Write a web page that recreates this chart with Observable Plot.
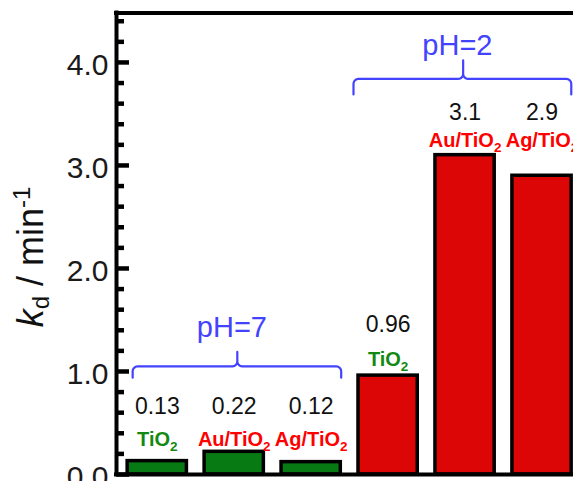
<!DOCTYPE html>
<html><head><meta charset="utf-8">
<script src="https://cdn.jsdelivr.net/npm/d3@7"></script>
<script src="https://cdn.jsdelivr.net/npm/@observablehq/plot@0.6"></script>
<style>
body{margin:0;background:#fff}
#chart svg{font-family:"Liberation Sans",Arial,Helvetica,sans-serif;display:block}
</style>
</head><body><div id="chart"></div>
<script>
// ---- data ----
const catalysts   = ["TiO2", "Au/TiO2", "Ag/TiO2", "TiO2", "Au/TiO2", "Ag/TiO2"];
const phGroups    = ["pH=7", "pH=7", "pH=7", "pH=2", "pH=2", "pH=2"];
const kd          = [0.13, 0.22, 0.12, 0.96, 3.1, 2.9];
const valueLabels = ["0.13", "0.22", "0.12", "0.96", "3.1", "2.9"];
const yTicks      = [0, 1, 2, 3, 4];
const yTickLabels = ["0.0", "1.0", "2.0", "3.0", "4.0"];
const groupNames  = ["pH=7", "pH=2"];

// ---- layout / style (annotation placement, in data units) ----
const valueLabelY = [0.59, 0.59, 0.59, 1.38, 3.44, 3.44];
const nameLabelY  = [0.28, 0.28, 0.28, 1.05, 3.18, 3.18];
const braceLayout = {
  "pH=7": {x1: -0.32, x2: 2.39, xt: 1.04, yEnd: 0.94, yH: 1.05, yTip: 1.19, textX: 0.97, textY: 1.335},
  "pH=2": {x1: 2.55, x2: 5.38, xt: 3.975, yEnd: 3.69, yH: 3.84, yTip: 4.02, textX: 3.90, textY: 4.075}
};
const barColor  = {"pH=7": "#077a13", "pH=2": "#dc0606"};
const nameColor = {"TiO2": "#128a12", "Au/TiO2": "#ff0000", "Ag/TiO2": "#ff0000"};
const blue = "#4343ff";
const xMin = -0.53, yMax = 4.48, halfW = 0.385;

const rows = catalysts.map((c, i) => ({
  i, cat: c, group: phGroups[i], kd: kd[i], label: valueLabels[i],
  vy: valueLabelY[i], ny: nameLabelY[i]
}));

// brace geometry
const rx = 5 / 77, ry = 5 / 103;
function arc(cx, cy, a0, a1, n = 6) {
  const pts = [];
  for (let k = 0; k <= n; k++) {
    const a = a0 + (a1 - a0) * k / n;
    pts.push([cx + rx * Math.cos(a), cy + ry * Math.sin(a)]);
  }
  return pts;
}
const braceRows = [];
groupNames.forEach(g => {
  const b = braceLayout[g];
  const pts = [
    [b.x1, b.yEnd],
    ...arc(b.x1 + rx, b.yH - ry, Math.PI, Math.PI / 2),
    ...arc(b.xt - rx, b.yH + ry, -Math.PI / 2, 0),
    [b.xt, b.yTip],
    ...arc(b.xt + rx, b.yH + ry, Math.PI, 3 * Math.PI / 2),
    ...arc(b.x2 - rx, b.yH - ry, Math.PI / 2, 0),
    [b.x2, b.yEnd]
  ];
  pts.forEach(p => braceRows.push({group: g, x: p[0], y: p[1]}));
});

const minorTicks = d3.range(1, 23).map(k => k / 5).filter(v => Math.abs(v - Math.round(v)) > 1e-6);

const chart = Plot.plot({
  width: 573, height: 481,
  marginLeft: 116, marginRight: -7, marginTop: 12.5, marginBottom: 7,
  x: {domain: [xMin, 5.5], range: [116, 580], axis: null},
  y: {domain: [0, yMax], range: [474, 12.5], axis: null},
  marks: [
    Plot.rectY(rows, {
      x1: d => d.i - halfW, x2: d => d.i + halfW, y1: 0, y2: "kd",
      fill: d => barColor[d.group], stroke: "black", strokeWidth: 3.5
    }),
    Plot.ruleY([0, yMax], {strokeWidth: 4, strokeLinecap: "square"}),
    Plot.ruleX([xMin], {strokeWidth: 4, strokeLinecap: "square"}),
    Plot.axisY(yTicks, {tickSize: -13, strokeWidth: 4.5, tickFormat: () => ""}),
    Plot.axisY(minorTicks, {tickSize: -8, strokeWidth: 4.5, tickFormat: () => ""}),
    Plot.axisY(yTicks, {
      tickSize: 0, tickPadding: 8, dy: 2.5, fontSize: 30, fill: "#1a1a1a",
      tickFormat: d => yTickLabels[yTicks.indexOf(d)]
    }),
    Plot.line(braceRows, {x: "x", y: "y", z: "group", stroke: blue, strokeWidth: 2.2, curve: "linear"}),
    Plot.text(groupNames, {
      x: g => braceLayout[g].textX, y: g => braceLayout[g].textY, text: d => d,
      fill: blue, fontSize: 29, lineAnchor: "bottom"
    }),
    Plot.text(rows, {x: "i", y: "vy", text: "label", fontSize: 23, fill: "#111", lineAnchor: "bottom"}),
    Plot.text(rows, {
      x: "i", y: "ny", text: "cat", fontSize: 20, fontWeight: "bold",
      fill: d => nameColor[d.cat], lineAnchor: "bottom", className: "catname"
    })
  ]
});

// subscripts for chemical formulas
d3.select(chart).selectAll("text").each(function () {
  const t = this.textContent;
  if (/O2$/.test(t) && this.children.length === 0) {
    const s = d3.select(this);
    s.text(t.slice(0, -1));
    s.append("tspan").attr("dy", 5).attr("font-size", 13.5).text("2");
  }
});

// y-axis title with italic k, subscript d and superscript -1
const yl = d3.select(chart).append("text")
  .attr("transform", "translate(43,257) rotate(-90)")
  .attr("text-anchor", "middle")
  .attr("font-size", 36)
  .attr("fill", "#111");
yl.append("tspan").attr("font-style", "italic").text("k");
yl.append("tspan").attr("font-size", 24).attr("dy", 6).text("d");
yl.append("tspan").attr("dy", -6).text("\u00a0/\u00a0min");
yl.append("tspan").attr("font-size", 24).attr("dy", -13).text("-1");

document.getElementById("chart").appendChild(chart);
</script>
</body></html>
